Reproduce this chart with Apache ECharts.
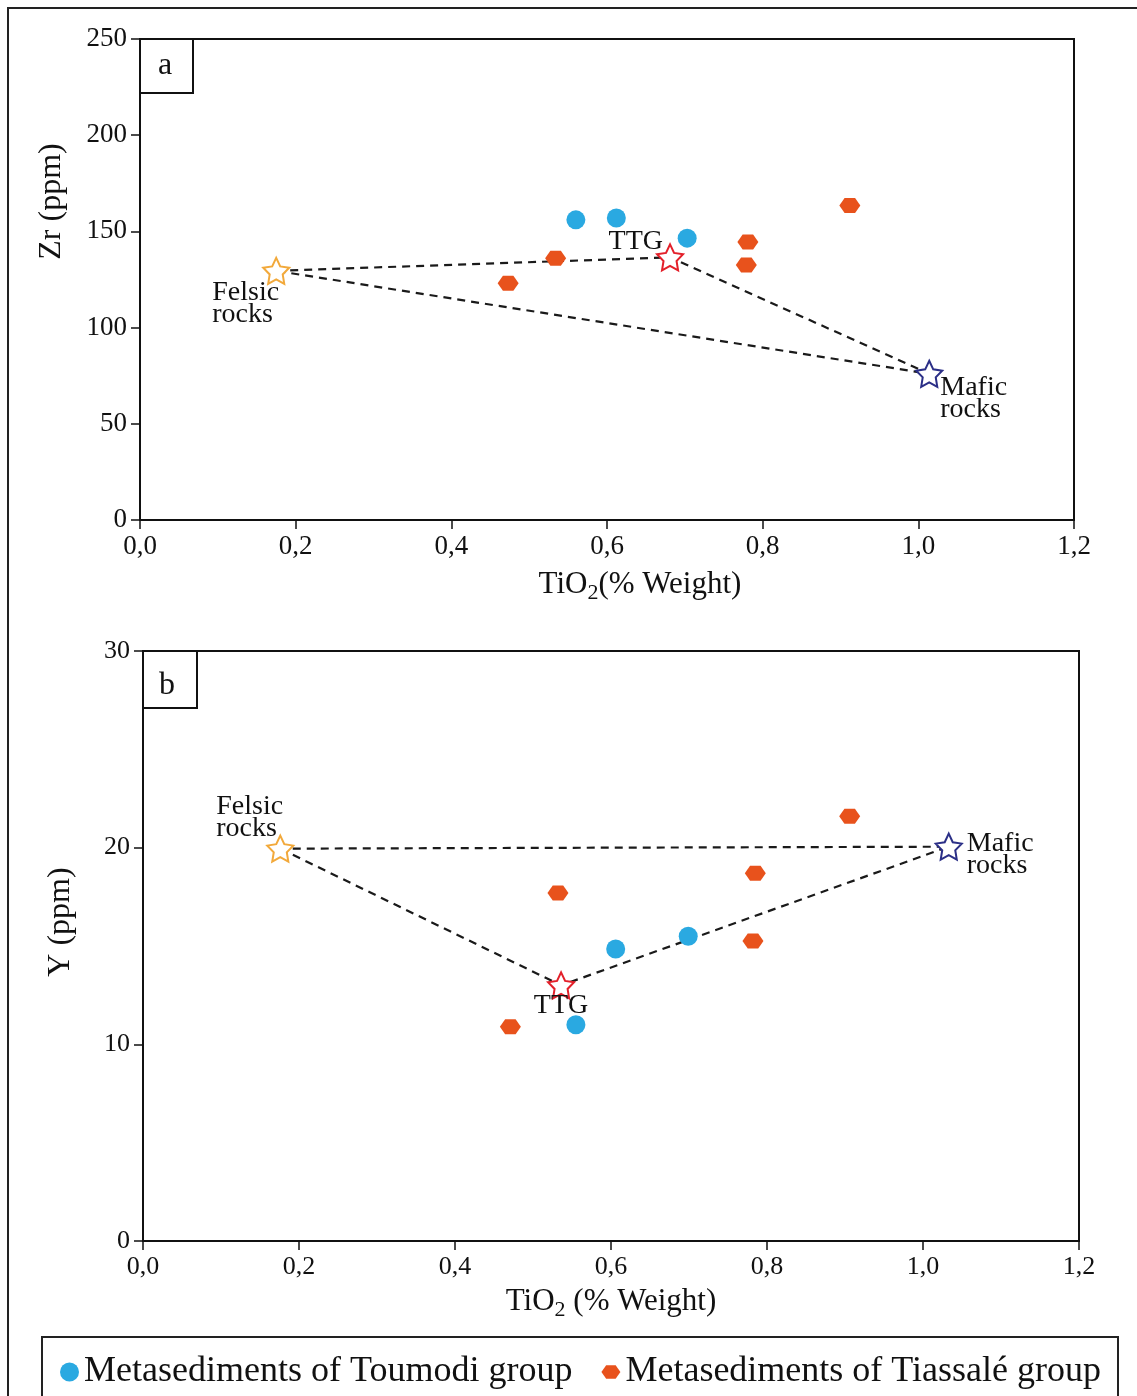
<!DOCTYPE html>
<html>
<head>
<meta charset="utf-8">
<script src="https://cdn.jsdelivr.net/npm/echarts@6/dist/echarts.min.js"></script>
<style>
html,body{margin:0;padding:0;background:#fff;}
#chart{width:1137px;height:1396px;}
</style>
</head>
<body>
<div id="chart"></div>
<script>
// ---------- DATA ----------
var xTicks = [0, 0.2, 0.4, 0.6, 0.8, 1.0, 1.2];
var yTicksA = [0, 50, 100, 150, 200, 250];
var yTicksB = [0, 10, 20, 30];

var seriesNames = ['Metasediments of Toumodi group', 'Metasediments of Tiassalé group'];
var endMemberNames = ['Felsic\nrocks', 'TTG', 'Mafic\nrocks'];

// Panel a : Zr vs TiO2
var toumodiA_x = [0.560, 0.612, 0.703];
var toumodiA_y = [156, 157, 146.5];
var tiassaleA_x = [0.473, 0.534, 0.781, 0.779, 0.912];
var tiassaleA_y = [123, 136, 144.5, 132.5, 163.5];
var endA_x = [0.175, 0.681, 1.014];
var endA_y = [129.5, 136.5, 76];

// Panel b : Y vs TiO2
var toumodiB_x = [0.555, 0.606, 0.699];
var toumodiB_y = [11.0, 14.85, 15.5];
var tiassaleB_x = [0.471, 0.532, 0.785, 0.782, 0.906];
var tiassaleB_y = [10.9, 17.7, 18.7, 15.25, 21.6];
var endB_x = [0.176, 0.536, 1.033];
var endB_y = [19.95, 13.0, 20.05];

// ---------- STYLE ----------
var FONT = '"Liberation Serif", "Times New Roman", serif';
var BLUE = '#2aa9e1';
var ORANGE = '#e8521c';
var STAR_COLORS = ['#f2a93b', '#e3202a', '#2b2f87'];
var STAR = 'path://M0,-10 L2.94,-4.05 L9.51,-3.09 L4.76,1.55 L5.88,8.09 L0,5 L-5.88,8.09 L-4.76,1.55 L-9.51,-3.09 L-2.94,-4.05 Z';
var HEX = 'path://M-10,0 L-5,-7 L5,-7 L10,0 L5,7 L-5,7 Z';

// label placement for the end-member stars (per panel): [dx, dy, align, verticalAlign]
var labelPosA = [[-63, 12, 'left', 'top'], [-6, -15, 'right', 'middle'], [12, 4, 'left', 'top']];
var labelPosB = [[-63, -52, 'left', 'top'], [1, 21, 'center', 'middle'], [19, -13, 'left', 'top']];

function zip(xs, ys) { return xs.map(function (x, i) { return [x, ys[i]]; }); }
function fmt(v) { return v.toFixed(1).replace('.', ','); }

function starData(xs, ys, pos) {
  var S = 26;
  return xs.map(function (x, i) {
    return {
      name: endMemberNames[i],
      value: [x, ys[i]],
      itemStyle: { color: '#fff', borderColor: STAR_COLORS[i], borderWidth: 2, opacity: 1 },
      label: {
        show: true,
        formatter: endMemberNames[i],
        position: [S / 2 + pos[i][0], S / 2 + pos[i][1]],
        align: pos[i][2],
        verticalAlign: pos[i][3],
        fontFamily: FONT,
        fontSize: 28,
        lineHeight: 22,
        color: '#111',
        opacity: 1
      }
    };
  });
}

function triangle(xs, ys) {
  var d = zip(xs, ys);
  d.push(d[0]);
  return d;
}

function xAxisOpt(gi, nameRich, gap, padLeft, fs) {
  return {
    gridIndex: gi, type: 'value', min: 0, max: 1.2, interval: 0.2,
    axisLine: { show: true, onZero: false, lineStyle: { color: '#111', width: 2 } },
    axisTick: { show: true, inside: false, length: 9, lineStyle: { color: '#111', width: 1.5 } },
    splitLine: { show: false },
    axisLabel: { formatter: fmt, fontFamily: FONT, fontSize: fs, color: '#111', margin: 13 },
    name: nameRich, nameLocation: 'middle', nameGap: gap,
    nameTextStyle: {
      fontFamily: FONT, fontSize: 31, color: '#111', padding: [0, 0, 0, padLeft],
      rich: { s: { fontFamily: FONT, fontSize: 22, color: '#111', padding: [16, 0, 0, 0] } }
    }
  };
}

function yAxisOpt(gi, max, interval, name, gap, padLeft, fs) {
  return {
    gridIndex: gi, type: 'value', min: 0, max: max, interval: interval,
    axisLine: { show: true, onZero: false, lineStyle: { color: '#111', width: 2 } },
    axisTick: { show: true, inside: false, length: 9, lineStyle: { color: '#111', width: 1.5 } },
    splitLine: { show: false },
    axisLabel: { fontFamily: FONT, fontSize: fs, color: '#111', margin: 13 },
    name: name, nameLocation: 'middle', nameGap: gap,
    nameTextStyle: { fontFamily: FONT, fontSize: 32, color: '#111', padding: [0, 0, 0, padLeft] }
  };
}

var lineStyle = { color: '#1a1a1a', width: 2.2, type: [8, 6] };

var option = {
  animation: false,
  backgroundColor: '#fff',
  grid: [
    { left: 140, top: 39, width: 934, height: 481, show: true, borderColor: '#111', borderWidth: 2, backgroundColor: 'transparent' },
    { left: 143, top: 651, width: 936, height: 590, show: true, borderColor: '#111', borderWidth: 2, backgroundColor: 'transparent' }
  ],
  xAxis: [
    xAxisOpt(0, 'TiO{s|2}(% Weight)', 46, 66, 27),
    xAxisOpt(1, 'TiO{s|2} (% Weight)', 42, 0, 26)
  ],
  yAxis: [
    yAxisOpt(0, 250, 50, 'Zr (ppm)', 72, 156, 27),
    yAxisOpt(1, 30, 10, 'Y (ppm)', 66, 48, 26)
  ],
  legend: {
    data: seriesNames,
    left: 55, top: 1349,
    itemWidth: 19, itemHeight: 19, itemGap: 29,
    textStyle: { fontFamily: FONT, fontSize: 36, color: '#111', padding: [0, 0, 0, 0] },
    selectedMode: false
  },
  graphic: [
    { type: 'rect', shape: { x: 8, y: 8, width: 1300, height: 1500 }, style: { fill: 'none', stroke: '#222', lineWidth: 2 }, silent: true },
    { type: 'rect', shape: { x: 42, y: 1337, width: 1076, height: 120 }, style: { fill: 'none', stroke: '#222', lineWidth: 2 }, silent: true },
    { type: 'rect', shape: { x: 140, y: 39, width: 53, height: 54 }, style: { fill: '#fff', stroke: '#111', lineWidth: 2 }, z: 10 },
    { type: 'text', x: 165, y: 66, style: { text: 'a', fontFamily: FONT, fontSize: 32, fill: '#111', align: 'center', verticalAlign: 'middle' }, z: 11 },
    { type: 'rect', shape: { x: 143, y: 651, width: 54, height: 57 }, style: { fill: '#fff', stroke: '#111', lineWidth: 2 }, z: 10 },
    { type: 'text', x: 167, y: 686, style: { text: 'b', fontFamily: FONT, fontSize: 32, fill: '#111', align: 'center', verticalAlign: 'middle' }, z: 11 }
  ],
  series: [
    // panel a
    { type: 'line', xAxisIndex: 0, yAxisIndex: 0, data: triangle(endA_x, endA_y), symbol: 'none', lineStyle: lineStyle, z: 1, silent: true },
    { name: seriesNames[0], type: 'scatter', xAxisIndex: 0, yAxisIndex: 0, data: zip(toumodiA_x, toumodiA_y), symbol: 'circle', symbolSize: 19, itemStyle: { color: BLUE, opacity: 1 }, z: 3 },
    { name: seriesNames[1], type: 'scatter', xAxisIndex: 0, yAxisIndex: 0, data: zip(tiassaleA_x, tiassaleA_y), symbol: HEX, symbolSize: [21, 15], itemStyle: { color: ORANGE, opacity: 1 }, z: 3 },
    { name: 'endA', type: 'scatter', xAxisIndex: 0, yAxisIndex: 0, data: starData(endA_x, endA_y, labelPosA), symbol: STAR, symbolSize: 26, itemStyle: { opacity: 1 }, z: 4 },
    // panel b
    { type: 'line', xAxisIndex: 1, yAxisIndex: 1, data: triangle(endB_x, endB_y), symbol: 'none', lineStyle: lineStyle, z: 1, silent: true },
    { name: seriesNames[0], type: 'scatter', xAxisIndex: 1, yAxisIndex: 1, data: zip(toumodiB_x, toumodiB_y), symbol: 'circle', symbolSize: 19, itemStyle: { color: BLUE, opacity: 1 }, z: 3 },
    { name: seriesNames[1], type: 'scatter', xAxisIndex: 1, yAxisIndex: 1, data: zip(tiassaleB_x, tiassaleB_y), symbol: HEX, symbolSize: [21, 15], itemStyle: { color: ORANGE, opacity: 1 }, z: 3 },
    { name: 'endB', type: 'scatter', xAxisIndex: 1, yAxisIndex: 1, data: starData(endB_x, endB_y, labelPosB), symbol: STAR, symbolSize: 26, itemStyle: { opacity: 1 }, z: 4 }
  ]
};

var chart = echarts.init(document.getElementById('chart'), null, { renderer: 'canvas' });
chart.setOption(option);
</script>
</body>
</html>
